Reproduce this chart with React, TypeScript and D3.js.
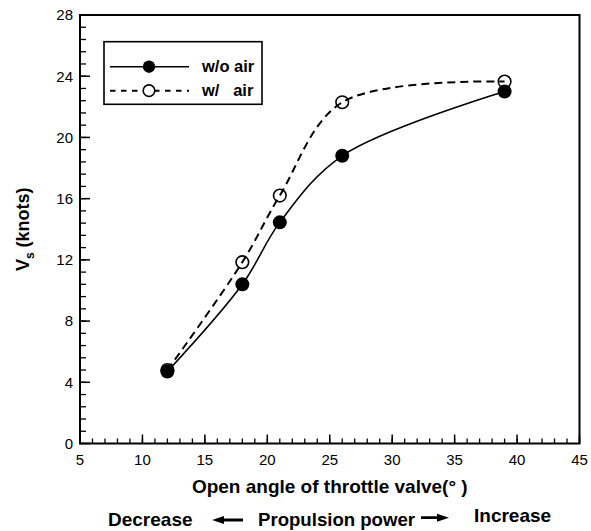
import React from "react";
import * as d3 from "d3";

const angles = [12, 18, 21, 26, 39];
const vsWithoutAir = [4.7, 10.4, 14.45, 18.8, 23.0];
const vsWithAir = [4.8, 11.85, 16.2, 22.3, 23.65];
const xTicks = [5, 10, 15, 20, 25, 30, 35, 40, 45];
const yTicks = [0, 4, 8, 12, 16, 20, 24, 28];
const seriesNames = ["w/o air", "w/   air"];

const W = 591;
const H = 531;
const L = 80, R = 579.5, T = 15, B = 443.5;

export default function App() {
  const x = d3.scaleLinear().domain([5, 45]).range([L, R]);
  const y = d3.scaleLinear().domain([0, 28]).range([B, T]);
  const line = d3
    .line<[number, number]>()
    .x((d) => x(d[0]))
    .y((d) => y(d[1]))
    .curve(d3.curveCatmullRom.alpha(0.5));
  const s1 = angles.map((a, i) => [a, vsWithoutAir[i]] as [number, number]);
  const s2 = angles.map((a, i) => [a, vsWithAir[i]] as [number, number]);

  const xMinor = d3.range(5, 45.001, 1);
  const yMinor = d3.range(0, 28.001, 0.8);
  const font = "'Liberation Sans', Arial, sans-serif";

  return (
    <svg
      width={W}
      height={H}
      style={{ position: "absolute", left: 0, top: 0, background: "#fff" }}
      fontFamily={font}
    >
      <rect x={0} y={0} width={W} height={H} fill="#fff" />
      {xMinor.map((v) => (
        <line key={"xm" + v} x1={x(v)} x2={x(v)} y1={B} y2={B - 5} stroke="#000" strokeWidth={1.3} />
      ))}
      {xTicks.map((v) => (
        <line key={"xM" + v} x1={x(v)} x2={x(v)} y1={B} y2={B - 9} stroke="#000" strokeWidth={1.5} />
      ))}
      {yMinor.map((v) => (
        <line key={"ym" + v} x1={L} x2={L + 6} y1={y(v)} y2={y(v)} stroke="#000" strokeWidth={1.3} />
      ))}
      {yTicks.map((v) => (
        <line key={"yM" + v} x1={L} x2={L + 10} y1={y(v)} y2={y(v)} stroke="#000" strokeWidth={1.5} />
      ))}
      <rect x={L} y={T} width={R - L} height={B - T} fill="none" stroke="#000" strokeWidth={2} />

      {xTicks.map((v) => (
        <text key={"xl" + v} x={x(v)} y={465} fontSize={15} textAnchor="middle">
          {v}
        </text>
      ))}
      {yTicks.map((v) => (
        <text key={"yl" + v} x={73} y={y(v) + 5.3} fontSize={15} textAnchor="end">
          {v}
        </text>
      ))}

      <path d={line(s2) || ""} fill="none" stroke="#000" strokeWidth={2} strokeDasharray="8,5" />
      <path d={line(s1) || ""} fill="none" stroke="#000" strokeWidth={1.6} />
      {s2.map((d, i) => (
        <circle key={"o" + i} cx={x(d[0])} cy={y(d[1])} r={6.3} fill="none" stroke="#000" strokeWidth={1.6} />
      ))}
      {s1.map((d, i) => (
        <circle key={"f" + i} cx={x(d[0])} cy={y(d[1])} r={7} fill="#000" />
      ))}

      <rect x={104} y={41.7} width={158} height={62.6} fill="#fff" stroke="#000" strokeWidth={1.6} />
      <line x1={110} x2={189} y1={66.7} y2={66.7} stroke="#000" strokeWidth={1.6} />
      <circle cx={149} cy={66.7} r={6.2} fill="#000" />
      <line x1={110} x2={189} y1={90.7} y2={90.7} stroke="#000" strokeWidth={2} strokeDasharray="5.5,5.5" />
      <circle cx={149} cy={90.7} r={5.8} fill="#fff" stroke="#000" strokeWidth={1.6} />
      <text x={202} y={72} fontSize={16.5} fontWeight="bold">
        {seriesNames[0]}
      </text>
      <text x={202} y={96} fontSize={16.5} fontWeight="bold" style={{ whiteSpace: "pre" }}>
        {seriesNames[1]}
      </text>

      <text x={(L + R) / 2} y={493} fontSize={19} fontWeight="bold" textAnchor="middle">
        Open angle of throttle valve(° )
      </text>
      <text
        transform={`translate(29, ${(T + B) / 2}) rotate(-90)`}
        fontSize={18}
        fontWeight="bold"
        textAnchor="middle"
      >
        V<tspan fontSize={12} dy={5}>s</tspan>
        <tspan dy={-5}> (knots)</tspan>
      </text>

      <text x={108} y={526} fontSize={19} fontWeight="bold">
        Decrease
      </text>
      <path d="M212,520 L224,516 L224,518.6 L243,518.6 L243,521.4 L224,521.4 L224,524 Z" fill="#000" />
      <text x={258} y={526} fontSize={18.6} fontWeight="bold">
        Propulsion power
      </text>
      <path d="M449,517.7 L437,513.7 L437,516.3 L421,516.3 L421,519.1 L437,519.1 L437,521.7 Z" fill="#000" />
      <text x={474} y={522} fontSize={19} fontWeight="bold">
        Increase
      </text>
    </svg>
  );
}
